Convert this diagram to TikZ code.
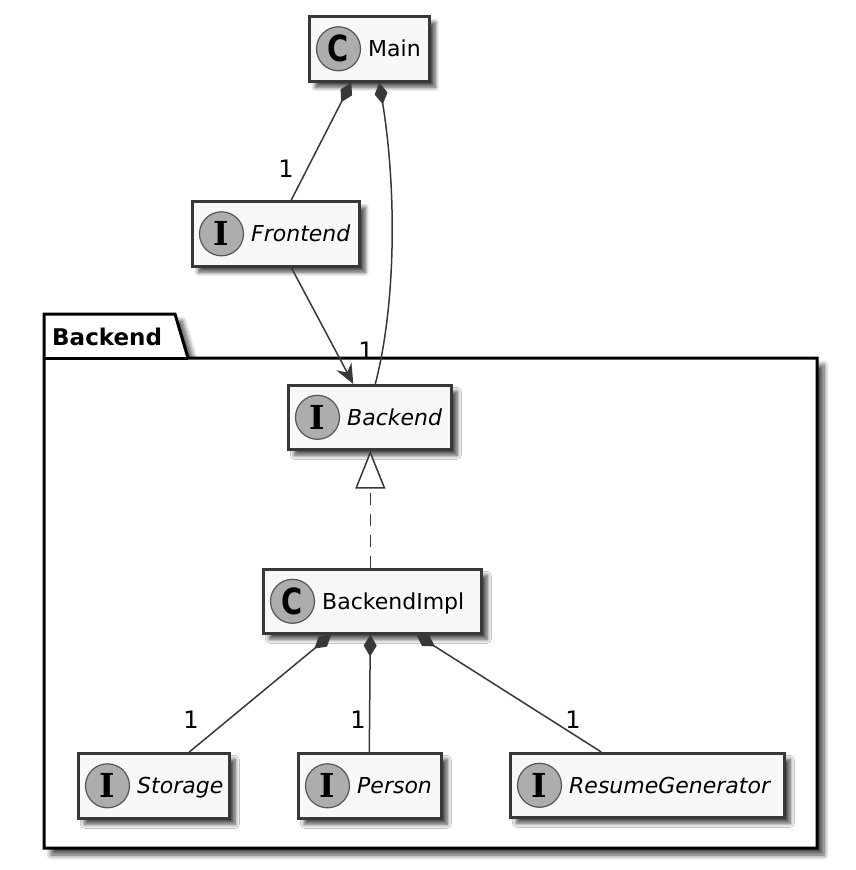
\documentclass[tikz,border=0pt]{standalone}
\usepackage{fontspec}
\usepackage{graphicx}
\setmainfont{DejaVu Sans}
\newfontfamily\slabfont{DejaVu Serif}
\usetikzlibrary{arrows.meta,shadows.blur}

\definecolor{edgegray}{HTML}{383838}
\definecolor{boxfill}{HTML}{F8F8F8}
\definecolor{spotfill}{HTML}{ADADAD}

\tikzset{
  classbox/.style={draw=edgegray, line width=2.6pt, fill=boxfill, inner sep=0pt,
    anchor=north west,
    blur shadow={shadow xshift=6pt, shadow yshift=-6pt, shadow blur radius=4pt,
      shadow blur steps=8, shadow opacity=70}},
  spotball/.style={circle, draw=edgegray!85, line width=1.2pt, fill=spotfill,
    minimum size=44pt, inner sep=0pt},
  classlabel/.style={anchor=west, inner sep=0pt, text height=16pt, text depth=0pt,
    font=\fontsize{22}{26}\selectfont},
  pkgframe/.style={draw=black, line width=3pt, fill=white,
    blur shadow={shadow xshift=7pt, shadow yshift=-7pt, shadow blur radius=5pt,
      shadow blur steps=8, shadow opacity=70}},
  link/.style={draw=edgegray, line width=1.5pt},
  composite/.style={link, {Diamond[length=22pt, width=13pt, fill=edgegray]}-},
  mult/.style={inner sep=0pt, font=\fontsize{24}{28}\selectfont},
}

% class box with a lettered spot and a name; #1 id, #2 x, #3 y, #4 width, #5 height,
% #6 spot letter, #7 name
\newcommand\classnode[7]{%
  \node[classbox, minimum width=#4pt, minimum height=#5pt] (#1) at (#2,#3) {};
  \node[spotball] (#1-spot) at ([xshift=30.5pt]#1.west) {#6};
  \node[classlabel] (#1-label) at ([xshift=60pt]#1.west) {#7};
}
\newcommand\classletter{{\fontsize{36}{36}\selectfont\bfseries\scalebox{0.8}[1]{C}}}
\newcommand\ifaceletter{{\slabfont\fontsize{33}{33}\selectfont\bfseries I}}

\begin{document}
\begin{tikzpicture}[x=1pt, y=-1pt]
  \useasboundingbox (0,0) rectangle (856,870);

  % package frame with its tab
  \path[pkgframe] (44,848) -- (44,314) -- (175,314) -- (188,358) -- (817,358)
    -- (817,848) -- cycle;
  \draw[line width=3pt] (44,358) -- (188,358);
  \node[anchor=base west, inner sep=0pt, font=\fontsize{23}{26}\selectfont\bfseries]
    (pkgtitle) at (52,345) {Backend};

  % classes and interfaces
  \classnode{main}{308}{15}{120}{65}{\classletter}{Main}
  \classnode{frontend}{191}{200}{167}{65}{\ifaceletter}{\itshape Frontend}
  \classnode{backend}{287}{384}{163}{64}{\ifaceletter}{\itshape Backend}
  \classnode{impl}{262}{568}{218}{64}{\classletter}{BackendImpl}
  \classnode{storage}{77}{752}{151}{65}{\ifaceletter}{\itshape Storage}
  \classnode{person}{297}{752}{143}{65}{\ifaceletter}{\itshape Person}
  \classnode{resume}{509}{752}{274}{64}{\ifaceletter}{\itshape ResumeGenerator}

  % Main owns a Frontend and a Backend
  \draw[composite] ([xshift=-18pt]main.south) -- ([xshift=15.5pt]frontend.north);
  \draw[composite] ([xshift=10pt]main.south) .. controls (396,185) and (397,300)
    .. ([xshift=5.5pt]backend.north);
  \node[mult] (m1) at (286,169) {1};
  \node[mult] (m2) at (366,351) {1};

  % Frontend uses Backend
  \draw[link, -{Stealth[length=20pt, width=17pt, inset=7pt]}]
    ([xshift=15.5pt]frontend.south) -- ([xshift=-16.5pt]backend.north);

  % BackendImpl realises Backend
  \draw[link, dash pattern=on 12pt off 9pt,
    -{Triangle[length=38pt, width=30pt, fill=white]}]
    ([xshift=-2pt]impl.north) -- ([xshift=0.5pt]backend.south);

  % BackendImpl owns its parts
  \draw[composite] ([xshift=-41pt]impl.south) -- ([xshift=35.5pt]storage.north);
  \draw[composite] ([xshift=-2pt]impl.south) -- ([xshift=-0.5pt]person.north);
  \draw[composite] ([xshift=44pt]impl.south) -- ([xshift=-46pt]resume.north);
  \node[mult] (m3) at (191,720) {1};
  \node[mult] (m4) at (358,720) {1};
  \node[mult] (m5) at (573,720) {1};
\end{tikzpicture}
\end{document}
